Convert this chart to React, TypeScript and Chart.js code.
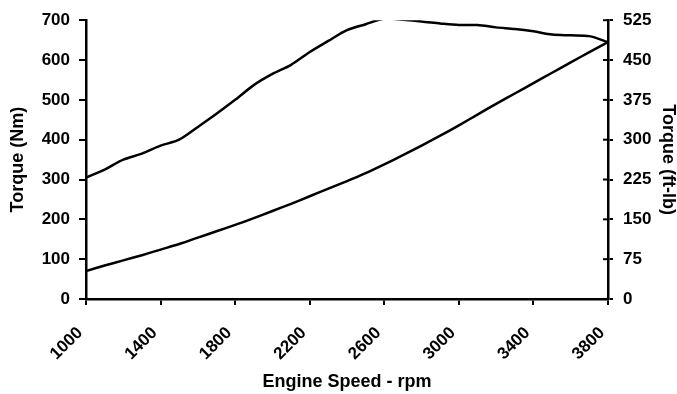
import React, { useEffect, useRef } from "react";
import { Chart, registerables } from "chart.js";

Chart.register(...registerables);

const rpm = [1000, 1100, 1200, 1300, 1400, 1500, 1600, 1700, 1800, 1900, 2000, 2100, 2200, 2300, 2400, 2500, 2600, 2700, 2800, 2900, 3000, 3100, 3200, 3300, 3400, 3500, 3600, 3700, 3800];
const torqueNm = [305, 325, 350, 365, 385, 400, 432, 465, 500, 537, 565, 588, 620, 648, 675, 690, 704, 701, 697, 692, 688, 688, 682, 678, 672, 664, 662, 660, 645];
const lowerCurve = [70, 84, 97, 110, 124, 138, 154, 170, 186, 203, 221, 239, 258, 277, 296, 316, 338, 361, 385, 410, 436, 463, 490, 516, 542, 568, 594, 620, 645];
const xTicks = [1000, 1400, 1800, 2200, 2600, 3000, 3400, 3800];
const leftTicks = [0, 100, 200, 300, 400, 500, 600, 700];
const rightTicks = [0, 75, 150, 225, 300, 375, 450, 525];

const FONT = "'Liberation Sans', Arial, sans-serif";

export default function App() {
  const ref = useRef<HTMLCanvasElement | null>(null);
  useEffect(() => {
    document.body.style.margin = "0";
    const canvas = ref.current!;
    const innerTicks = {
      id: "innerTicks",
      afterDraw(chart: any) {
        const s = chart.scales.y2;
        const ctx = chart.ctx;
        ctx.save();
        ctx.strokeStyle = "#000";
        ctx.lineWidth = 2;
        s.ticks.forEach((t: any) => {
          const y = s.getPixelForValue(t.value);
          ctx.beginPath();
          ctx.moveTo(s.left - 5, y);
          ctx.lineTo(s.left, y);
          ctx.stroke();
        });
        ctx.restore();
      },
    };
    const chart = new Chart(canvas, {
      type: "line",
      data: {
        datasets: [
          {
            data: rpm.map((x, i) => ({ x, y: torqueNm[i] })),
            borderColor: "#000",
            borderWidth: 2.5,
            pointRadius: 0,
            tension: 0.3,
            yAxisID: "y",
          },
          {
            data: rpm.map((x, i) => ({ x, y: lowerCurve[i] })),
            borderColor: "#000",
            borderWidth: 2.5,
            pointRadius: 0,
            tension: 0.3,
            yAxisID: "y",
          },
        ],
      },
      options: {
        animation: false,
        responsive: false,
        layout: { padding: { top: 18, left: 0, right: 0, bottom: 0 } },
        plugins: { legend: { display: false }, tooltip: { enabled: false } },
        scales: {
          x: {
            type: "linear",
            min: 1000,
            max: 3800,
            afterBuildTicks: (s: any) => {
              s.ticks = xTicks.map((v) => ({ value: v }));
            },
            afterFit: (s: any) => {
              s.height = 95;
            },
            grid: { drawOnChartArea: false, color: "#000", lineWidth: 2, tickLength: 6 },
            border: { color: "#000", width: 2.5 },
            ticks: {
              color: "#000",
              font: { family: FONT, size: 17, weight: "bold" },
              minRotation: 45,
              maxRotation: 45,
              padding: 18,
              labelOffset: -6,
              callback: (v: any) => String(v),
            },
            title: {
              display: true,
              text: "Engine Speed - rpm",
              color: "#000",
              font: { family: FONT, size: 18, weight: "bold" },
              padding: { top: 0, bottom: 1 },
            },
          },
          y: {
            position: "left",
            min: 0,
            max: 700,
            afterBuildTicks: (s: any) => {
              s.ticks = leftTicks.map((v) => ({ value: v }));
            },
            afterFit: (s: any) => {
              s.width = 86;
            },
            grid: { drawOnChartArea: false, color: "#000", lineWidth: 2, tickLength: 7 },
            border: { color: "#000", width: 2.5 },
            ticks: {
              color: "#000",
              font: { family: FONT, size: 17, weight: "bold" },
              padding: 9,
            },
            title: {
              display: true,
              text: "Torque (Nm)",
              color: "#000",
              font: { family: FONT, size: 18, weight: "bold" },
              padding: { top: 7, bottom: 0 },
            },
          },
          y2: {
            position: "right",
            min: 0,
            max: 525,
            afterBuildTicks: (s: any) => {
              s.ticks = rightTicks.map((v) => ({ value: v }));
            },
            afterFit: (s: any) => {
              s.width = 69;
            },
            grid: { drawOnChartArea: false, color: "#000", lineWidth: 2, tickLength: 5 },
            border: { color: "#000", width: 2.5 },
            ticks: {
              color: "#000",
              font: { family: FONT, size: 17, weight: "bold" },
              padding: 10,
            },
            title: {
              display: true,
              text: "Torque (ft-lb)",
              color: "#000",
              font: { family: FONT, size: 18, weight: "bold" },
              padding: { top: -2, bottom: 0 },
            },
          },
        },
      },
      plugins: [innerTicks],
    } as any);
    return () => chart.destroy();
  }, []);
  return (
    <div style={{ width: 677, height: 394, background: "#fff" }}>
      <canvas ref={ref} width={677} height={394} style={{ display: "block" }} />
    </div>
  );
}
